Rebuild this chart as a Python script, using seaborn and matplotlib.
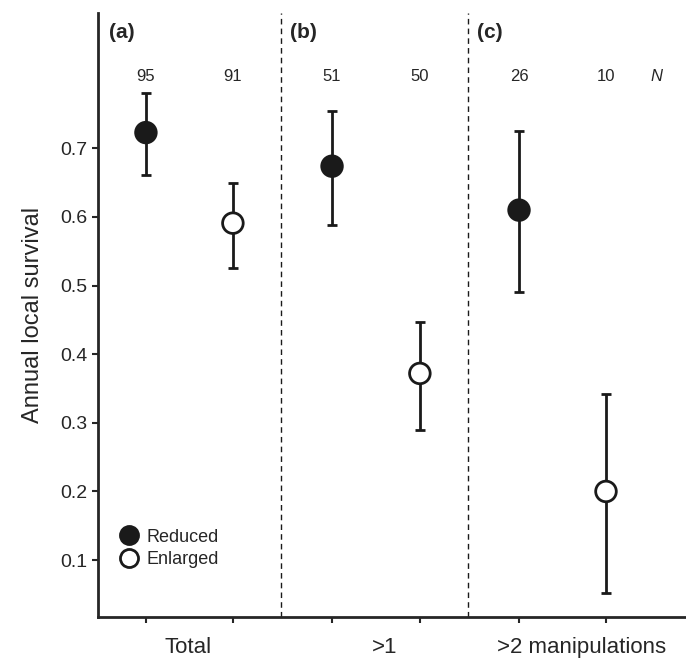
import numpy as np
import pandas as pd
import matplotlib
matplotlib.use("Agg")
import matplotlib.pyplot as plt
import seaborn as sns
from matplotlib.lines import Line2D

# data
xpos = [0, 1, 2.14, 3.15, 4.29, 5.29]
treat = ["Reduced", "Enlarged", "Reduced", "Enlarged", "Reduced", "Enlarged"]
survival = [0.723, 0.591, 0.674, 0.372, 0.610, 0.200]
ci_low = [0.661, 0.525, 0.588, 0.290, 0.490, 0.052]
ci_high = [0.780, 0.649, 0.754, 0.447, 0.725, 0.342]
n_labels = ["95", "91", "51", "50", "26", "10"]
group_labels = ["Total", ">1", ">2 manipulations"]
group_x = [0.48, 2.74, 5.01]
panel_labels = ["(a)", "(b)", "(c)"]
panel_x = [-0.42, 1.66, 3.81]

df = pd.DataFrame({"x": xpos, "treat": treat, "surv": survival})

sns.set_style("ticks")
plt.rcParams['font.family'] = ['Liberation Sans', 'DejaVu Sans']
fig = plt.figure(figsize=(6.86, 6.59), dpi=100)
ax = fig.add_axes([0.143, 0.0637, 0.857, 0.9163])

yerr = [np.array(survival) - np.array(ci_low), np.array(ci_high) - np.array(survival)]
ax.errorbar(xpos, survival, yerr=yerr, fmt="none", ecolor="#1a1a1a",
            elinewidth=2, capsize=3.5, capthick=2, zorder=2)
sns.scatterplot(data=df, x="x", y="surv", hue="treat",
                palette={"Reduced": "#1a1a1a", "Enlarged": "white"},
                edgecolor="#1a1a1a", linewidth=2, s=220, zorder=3,
                legend=False, ax=ax)

for xd in [1.55, 3.7]:
    ax.axvline(xd, color="#1a1a1a", ls=(0, (4, 3)), lw=1)

for x, t in zip(xpos, n_labels):
    ax.text(x, 0.805, t, ha="center", va="center", fontsize=12)
ax.text(5.87, 0.805, "N", ha="center", va="center", fontsize=12, style="italic")
for x, t in zip(panel_x, panel_labels):
    ax.text(x, 0.869, t, ha="left", va="center", fontsize=15, fontweight="bold")
for x, t in zip(group_x, group_labels):
    ax.text(x, -0.027, t, ha="center", va="center", fontsize=16)

ax.set_xlim(-0.55, 6.21)
ax.set_ylim(0.017, 0.897)
ax.set_xticks(xpos)
ax.set_xticklabels([])
ax.set_yticks([0.1, 0.2, 0.3, 0.4, 0.5, 0.6, 0.7])
ax.tick_params(axis="both", direction="out", length=4, width=1.5, labelsize=14)
ax.set_xlabel("")
ax.set_ylabel("Annual local survival", fontsize=17, labelpad=12)
sns.despine(ax=ax)
ax.spines["left"].set_linewidth(2)
ax.spines["bottom"].set_linewidth(2)

handles = [Line2D([], [], marker="o", ls="none", markersize=13, markerfacecolor="#1a1a1a",
                  markeredgecolor="#1a1a1a", markeredgewidth=2, label="Reduced"),
           Line2D([], [], marker="o", ls="none", markersize=13, markerfacecolor="white",
                  markeredgecolor="#1a1a1a", markeredgewidth=2, label="Enlarged")]
ax.legend(handles=handles, loc="lower left", frameon=False, fontsize=13,
          handletextpad=0.0, labelspacing=0.3, borderaxespad=0.3,
          bbox_to_anchor=(0.0, 0.06))

fig.savefig("out.png", dpi=100)
